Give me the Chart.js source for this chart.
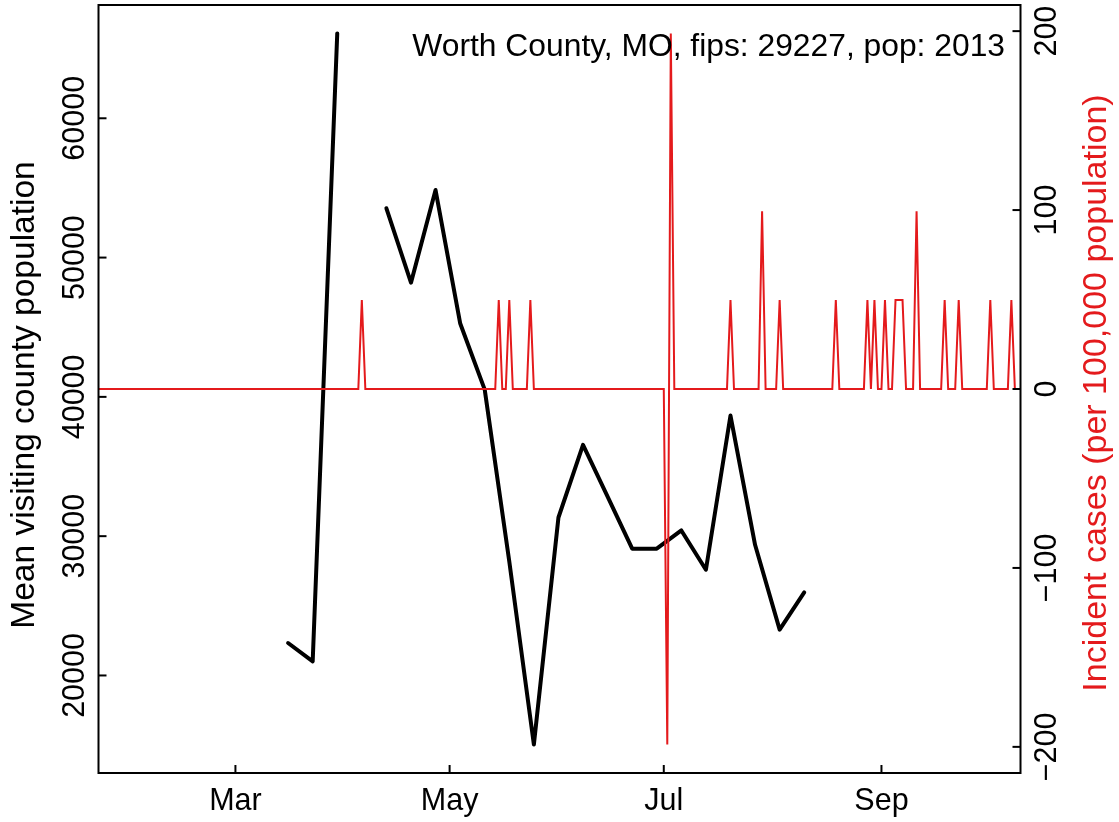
<!DOCTYPE html>
<html>
<head>
<meta charset="utf-8">
<script src="https://cdn.jsdelivr.net/npm/chart.js@4.4.1/dist/chart.umd.min.js"></script>
<style>
  html, body { margin:0; padding:0; background:#fff; }
  canvas { display:block; }
</style>
</head>
<body>
<canvas id="chart" width="1119" height="822"></canvas>
<script>
const countyTitle = 'Worth County, MO, fips: 29227, pop: 2013';
const countyPop = 2013;

// days are counted from 2020-03-01
const monthTickDays = [0, 61, 122, 184];
const monthTickLabels = ['Mar', 'May', 'Jul', 'Sep'];
const visitTicks = [20000, 30000, 40000, 50000, 60000];
const caseTicks = [-200, -100, 0, 100, 200];

// weekly mean visiting county population (Mondays, Mar 16 .. Aug 10)
const visitDays = [15, 22, 29, 36, 43, 50, 57, 64, 71, 78, 85, 92, 99, 106, 113, 120, 127, 134, 141, 148, 155, 162];
const visitors = [22330, 21010, 66090, null, 53540, 48200, 54850, 45290, 40520, 28180, 15040, 31340,
                  36560, 32840, 29100, 29100, 30410, 27590, 38660, 29380, 23290, 25960];

// daily new cases, Jan 22 .. Oct 9
const caseFirstDay = -39;
const newCases = [
  // Jan 22-31
  0,0,0,0,0,0,0,0,0,0,
  // Feb
  0,0,0,0,0,0,0,0,0,0, 0,0,0,0,0,0,0,0,0,0, 0,0,0,0,0,0,0,0,0,
  // Mar
  0,0,0,0,0,0,0,0,0,0, 0,0,0,0,0,0,0,0,0,0, 0,0,0,0,0,0,0,0,0,0,0,
  // Apr
  0,0,0,0,0,1,0,0,0,0, 0,0,0,0,0,0,0,0,0,0, 0,0,0,0,0,0,0,0,0,0,
  // May
  0,0,0,0,0,0,0,0,0,0, 0,0,0,0,1,0,0,1,0,0, 0,0,0,1,0,0,0,0,0,0,0,
  // Jun
  0,0,0,0,0,0,0,0,0,0, 0,0,0,0,0,0,0,0,0,0, 0,0,0,0,0,0,0,0,0,0,
  // Jul
  0,-4,4,0,0,0,0,0,0,0, 0,0,0,0,0,0,0,0,0,1, 0,0,0,0,0,0,0,0,2,0,0,
  // Aug
  0,0,1,0,0,0,0,0,0,0, 0,0,0,0,0,0,0,0,1,0, 0,0,0,0,0,0,0,1,0,1,0,
  // Sep
  0,1,0,0,1,1,1,0,0,0, 2,0,0,0,0,0,0,0,1,0, 0,0,1,0,0,0,0,0,0,0,
  // Oct 1-9
  0,1,0,0,0,0,0,1,0
];

const red = '#E41A1C';
const fam = '"Liberation Sans", Arial, sans-serif';
const tickFont = '30.5px ' + fam;

const visitPts = visitDays.map((d, i) => ({ x: d, y: visitors[i] }));
const casePts = newCases.map((c, i) => ({ x: caseFirstDay + i, y: c * 100000 / countyPop }));

// R-style 4% padding on both y ranges
const vVals = visitors.filter(v => v !== null);
const vLo = Math.min(...vVals), vHi = Math.max(...vVals), vPad = 0.04 * (vHi - vLo);
const cVals = casePts.map(p => p.y);
const cLo = Math.min(...cVals), cHi = Math.max(...cVals), cPad = 0.04 * (cHi - cLo);

const axisDecor = {
  id: 'axisDecor',
  afterDraw(chart) {
    const { ctx, chartArea: a, scales } = chart;
    ctx.save();
    ctx.strokeStyle = '#000';
    ctx.fillStyle = '#000';
    ctx.lineWidth = 2;
    ctx.strokeRect(a.left, a.top, a.right - a.left, a.bottom - a.top);

    ctx.font = tickFont;
    ctx.textAlign = 'center';
    ctx.textBaseline = 'alphabetic';
    monthTickDays.forEach((d, i) => {
      const x = scales.x.getPixelForValue(d);
      ctx.beginPath(); ctx.moveTo(x, a.bottom); ctx.lineTo(x, a.bottom - 8); ctx.stroke();
      ctx.fillText(monthTickLabels[i], x, 810);
    });

    visitTicks.forEach(v => {
      const y = scales.y.getPixelForValue(v);
      ctx.beginPath(); ctx.moveTo(a.left, y); ctx.lineTo(a.left + 8, y); ctx.stroke();
      ctx.save(); ctx.translate(84, y); ctx.rotate(-Math.PI / 2);
      ctx.fillText(String(v), 0, 0); ctx.restore();
    });

    caseTicks.forEach(v => {
      const y = scales.y2.getPixelForValue(v);
      ctx.beginPath(); ctx.moveTo(a.right, y); ctx.lineTo(a.right - 8, y); ctx.stroke();
      ctx.save(); ctx.translate(1056, y); ctx.rotate(-Math.PI / 2);
      ctx.fillText(v < 0 ? '\u2212' + (-v) : String(v), 0, 0); ctx.restore();
    });

    const midY = (a.top + a.bottom) / 2;
    ctx.font = '33.5px ' + fam;
    ctx.save(); ctx.translate(34, midY + 6); ctx.rotate(-Math.PI / 2);
    ctx.fillText('Mean visiting county population', 0, 0); ctx.restore();

    ctx.fillStyle = red;
    ctx.font = '34px ' + fam;
    ctx.save(); ctx.translate(1106, midY + 4); ctx.rotate(-Math.PI / 2);
    ctx.fillText('Incident cases (per 100,000 population)', 0, 0); ctx.restore();

    ctx.fillStyle = '#000';
    ctx.font = '31.8px ' + fam;
    ctx.textAlign = 'right';
    ctx.fillText(countyTitle, 1005, 56);
    ctx.restore();
  }
};

new Chart(document.getElementById('chart'), {
  type: 'line',
  data: {
    datasets: [
      { label: 'cases', data: casePts, yAxisID: 'y2', borderColor: red, borderWidth: 2,
        pointRadius: 0, tension: 0, order: 0 },
      { label: 'visitors', data: visitPts, yAxisID: 'y', borderColor: '#000', borderWidth: 4,
        pointRadius: 0, tension: 0, borderCapStyle: 'round', borderJoinStyle: 'round', order: 1 }
    ]
  },
  options: {
    responsive: false,
    animation: false,
    devicePixelRatio: 1,
    layout: { padding: { left: 98.5, right: 98.5, top: 5, bottom: 49 } },
    plugins: { legend: { display: false }, tooltip: { enabled: false } },
    scales: {
      x: { type: 'linear', display: false, min: -39, max: 223.6 },
      y: { type: 'linear', display: false, min: vLo - vPad, max: vHi + vPad },
      y2: { type: 'linear', display: false, min: cLo - cPad, max: cHi + cPad }
    }
  },
  plugins: [axisDecor]
});
</script>
</body>
</html>
